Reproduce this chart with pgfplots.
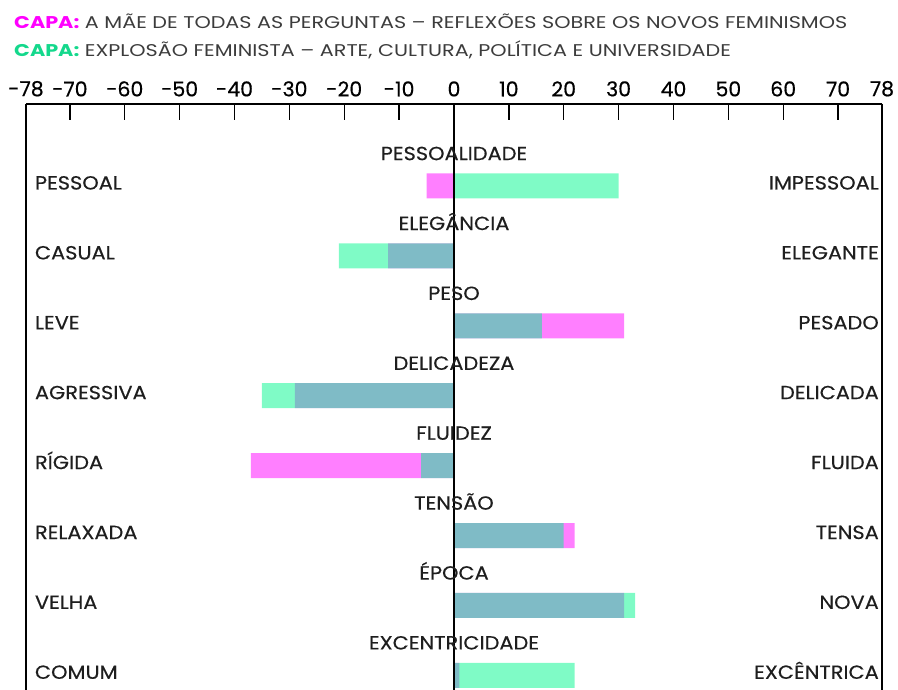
\documentclass[border=0pt]{standalone}
\usepackage{pgfplots}
\pgfplotsset{compat=1.18}
\usepackage{fontspec}
\setmainfont{Poppins}
\newfontfamily\wide[FakeStretch=1.1,FakeBold=0.4]{Poppins}
\newfontfamily\legf[FakeStretch=1.22]{Poppins}
\newfontfamily\tickf[FakeBold=0.5]{Poppins}
\definecolor{mag}{RGB}{255,0,255}
\definecolor{grn}{RGB}{0,248,141}
\definecolor{lgrn}{RGB}{20,216,140}
\definecolor{txt}{RGB}{30,30,30}
\definecolor{leg}{RGB}{60,60,60}
\tikzset{tt/.style={anchor=base, inner sep=0pt, text=txt, font=\wide\fontsize{19}{19}\selectfont},
  ll/.style={anchor=base west, inner sep=0pt, text=txt, font=\wide\fontsize{19}{19}\selectfont},
  rr/.style={anchor=base east, inner sep=0pt, text=txt, font=\wide\fontsize{19}{19}\selectfont}}
\begin{document}
\begin{tikzpicture}
\begin{axis}[
  scale only axis, width=856pt, height=586pt,
  at={(0pt,0pt)}, anchor=south west,
  xmin=-78, xmax=78, ymin=-1.173, ymax=7.21, y dir=reverse,
  axis x line*=top, axis y line*=box,
  xtick={-78,-70,-60,-50,-40,-30,-20,-10,0,10,20,30,40,50,60,70,78},
  xticklabels={-78,-70,-60,-50,-40,-30,-20,-10,0,10,20,30,40,50,60,70,78},
  ytick=\empty,
  tick align=inside, major tick length=16pt,
  tick style={black, line width=1.4pt},
  axis line style={black, line width=2pt},
  xticklabel style={font=\tickf\fontsize{20.5}{20.5}\selectfont, text=black, yshift=4pt},
  xbar, bar width=25pt,
  clip=false,
]
\addplot[fill=mag, fill opacity=0.5, draw=none, bar shift=0pt] coordinates {(-5,0) (-12,1) (31,2) (-29,3) (-37,4) (22,5) (31,6) (1,7)};
\addplot[fill=grn, fill opacity=0.5, draw=none, bar shift=0pt] coordinates {(30,0) (-21,1) (16,2) (-35,3) (-6,4) (20,5) (33,6) (22,7)};
\draw[black, line width=2pt] (axis cs:0,-1.173) -- (axis cs:0,7.21);
\node[tt] at (axis cs:0,-0.37) {PESSOALIDADE};
\node[tt] at (axis cs:0,0.63) {ELEGÂNCIA};
\node[tt] at (axis cs:0,1.63) {PESO};
\node[tt] at (axis cs:0,2.63) {DELICADEZA};
\node[tt] at (axis cs:0,3.63) {FLUIDEZ};
\node[tt] at (axis cs:0,4.63) {TENSÃO};
\node[tt] at (axis cs:0,5.63) {ÉPOCA};
\node[tt] at (axis cs:0,6.63) {EXCENTRICIDADE};
\node[ll] at (axis cs:-76.4,0.05) {PESSOAL};
\node[ll] at (axis cs:-76.4,1.05) {CASUAL};
\node[ll] at (axis cs:-76.4,2.05) {LEVE};
\node[ll] at (axis cs:-76.4,3.05) {AGRESSIVA};
\node[ll] at (axis cs:-76.4,4.05) {RÍGIDA};
\node[ll] at (axis cs:-76.4,5.05) {RELAXADA};
\node[ll] at (axis cs:-76.4,6.05) {VELHA};
\node[ll] at (axis cs:-76.4,7.05) {COMUM};
\node[rr] at (axis cs:77.45,0.05) {IMPESSOAL};
\node[rr] at (axis cs:77.45,1.05) {ELEGANTE};
\node[rr] at (axis cs:77.45,2.05) {PESADO};
\node[rr] at (axis cs:77.45,3.05) {DELICADA};
\node[rr] at (axis cs:77.45,4.05) {FLUIDA};
\node[rr] at (axis cs:77.45,5.05) {TENSA};
\node[rr] at (axis cs:77.45,6.05) {NOVA};
\node[rr] at (axis cs:77.45,7.05) {EXCÊNTRICA};
\end{axis}
\node[anchor=base west, inner sep=0pt, font=\legf\fontsize{17}{17}\selectfont] at (-12pt,661pt) {\textcolor{mag}{\bfseries CAPA:} \textcolor{leg}{A MÃE DE TODAS AS PERGUNTAS – REFLEXÕES SOBRE OS NOVOS FEMINISMOS}};
\node[anchor=base west, inner sep=0pt, font=\legf\fontsize{17}{17}\selectfont] at (-12pt,633pt) {\textcolor{lgrn}{\bfseries CAPA:} \textcolor{leg}{EXPLOSÃO FEMINISTA – ARTE, CULTURA, POLÍTICA E UNIVERSIDADE}};
\pgfresetboundingbox
\path (-26pt,0pt) rectangle (872pt,690pt);
\end{tikzpicture}
\end{document}
